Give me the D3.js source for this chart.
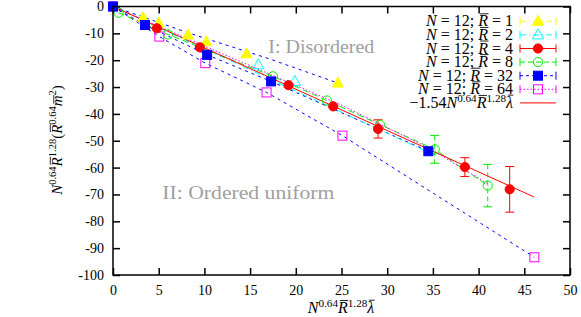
<!DOCTYPE html>
<html><head><meta charset="utf-8">
<script src="https://cdn.jsdelivr.net/npm/d3@7"></script>
<style>body{margin:0;background:#fff}svg{display:block}</style>
</head><body>
<script>
// ---------- data ----------
const xTicks = [0,5,10,15,20,25,30,35,40,45,50];
const yTicks = [0,-10,-20,-30,-40,-50,-60,-70,-80,-90,-100];
const seriesR = [1, 2, 4, 8, 32, 64];

// R=1 (yellow triangles)
const r1X = [3.3, 5.0, 8.2, 10.2, 14.6, 24.6];
const r1Y = [-4.2, -6.2, -10.6, -13.1, -17.6, -28.5];
// R=2 (cyan open triangles)
const r2X = [15.9, 19.9];
const r2Y = [-21.7, -27.9];
// R=4 (red filled circles) with errors
const r4X = [0, 4.8, 9.5, 19.2, 24.1, 29.0, 38.5, 43.4];
const r4Y = [0, -8.1, -15.2, -29.3, -37.2, -45.6, -59.8, -68.1];
const r4E = [0, 0, 0, 0, 0, 3.4, 3.5, 8.5];
// R=8 (green open circles) with errors
const r8X = [0.6, 6.0, 17.5, 23.4, 29.2, 35.2, 41.0];
const r8Y = [-2.3, -10.4, -26.0, -35.0, -44.0, -53.2, -66.7];
const r8E = [0, 0, 0, 0, 0, 5.2, 7.9];
// R=32 (blue filled squares)
const r32X = [0, 3.5, 10.3, 17.3, 34.5];
const r32Y = [0, -6.9, -18.0, -27.9, -53.9];
// R=64 (magenta open squares)
const r64X = [0, 5.07, 10.1, 16.8, 25.1, 46.1];
const r64Y = [0, -11.2, -21.1, -32.0, -48.1, -93.4];

// connecting lines
const cyanLineX = [0, 34.5];
const cyanLineY = [0, -54.3];
const magLineX = [0, 24.9, 34.5, 41.0];
const magLineY = [0, -36.6, -52.6, -66.0];
const upperBlueX = [0, 8.4, 17.2, 24.6];
const upperBlueY = [0, -10.0, -19.6, -28.5];
// fit
const fitSlope = -1.54;
const fitX = [0, 46.1];

// ---------- layout ----------
const W = 581, H = 317;
const L = 113, R = 570, T = 6.5, B = 275;
const FONT = "'Liberation Serif', 'DejaVu Serif', serif";

const svg = d3.select("body").append("svg").attr("width", W).attr("height", H);
const x = d3.scaleLinear().domain([0, 50]).range([L, R]);
const y = d3.scaleLinear().domain([-100, 0]).range([B, T]);

const pts = (xs, ys) => xs.map((v, i) => [v, ys[i]]);
const line = d3.line().x(d => x(d[0])).y(d => y(d[1]));

const COL = {y:"#ffff00", c:"#00ffff", r:"#ff0000", g:"#00ee00", b:"#0000ff", m:"#ff00ff"};

// ---------- axes ----------
const axB = d3.axisBottom(x).tickValues(xTicks).tickSize(-7).tickPadding(10).tickFormat(d3.format("d"));
const axT = d3.axisTop(x).tickValues(xTicks).tickSize(-7).tickFormat("");
const axL = d3.axisLeft(y).tickValues(yTicks).tickSize(-7).tickPadding(9).tickFormat(d => d === 0 ? "0" : "-" + Math.abs(d));
const axR = d3.axisRight(y).tickValues(yTicks).tickSize(-7).tickFormat("");
function styleAx(g){
  g.select(".domain").remove();
  g.selectAll(".tick line").attr("stroke", "#000").attr("stroke-width", 1.5);
  g.selectAll(".tick text").attr("font-family", FONT).attr("font-size", 14).attr("fill", "#000");
}
svg.append("g").attr("transform", `translate(0,${B})`).call(axB).call(styleAx);
svg.append("g").attr("transform", `translate(0,${T})`).call(axT).call(styleAx);
svg.append("g").attr("transform", `translate(${L},0)`).call(axL).call(styleAx);
svg.append("g").attr("transform", `translate(${R},0)`).call(axR).call(styleAx);

// ---------- math text helper (bars drawn as lines) ----------
function mathText(parent, parts, size, tx, ty, anchor, transform){
  const g = parent.append("g");
  if (transform) g.attr("transform", transform);
  const t = g.append("text").attr("x", tx).attr("y", ty).attr("text-anchor", anchor)
    .attr("font-family", FONT).attr("font-size", size).attr("fill", "#000");
  let up = false;
  const bars = [];
  parts.forEach(p => {
    const s = t.append("tspan").text(p.t);
    if (p.it) s.attr("font-style", "italic");
    if (p.sup) {
      s.attr("font-size", size * 0.7);
      if (!up) { s.attr("dy", -size * 0.38); up = true; }
    } else if (up) { s.attr("dy", size * 0.38); up = false; }
    if (p.bar) bars.push([s, p.bar]);
  });
  bars.forEach(([s, h]) => {
    const bb = s.node().getBBox();
    const by = ty - size * h;
    g.append("line").attr("x1", bb.x + size * 0.18).attr("x2", bb.x + bb.width + size * 0.02)
      .attr("y1", by).attr("y2", by).attr("stroke", "#000").attr("stroke-width", size * 0.055);
  });
  return g;
}

// ---------- annotations ----------
svg.append("text").attr("x", x(17)).attr("y", y(-17.5)).attr("font-family", FONT).attr("font-size", 19)
  .attr("textLength", 106).attr("lengthAdjust", "spacingAndGlyphs")
  .attr("fill", "#a0a0a0").text("I: Disordered");
svg.append("text").attr("x", x(5.4)).attr("y", y(-71.6)).attr("font-family", FONT).attr("font-size", 19)
  .attr("textLength", 172).attr("lengthAdjust", "spacingAndGlyphs")
  .attr("fill", "#a0a0a0").text("II: Ordered uniform");

const plot = svg.append("g");

// lines
function drawLine(data, color, dash, width){
  plot.append("path").datum(data).attr("d", line).attr("fill", "none")
    .attr("stroke", color).attr("stroke-width", width || 1).attr("stroke-dasharray", dash);
}
drawLine(pts(upperBlueX, upperBlueY), COL.b, "3,4");
drawLine(pts(r64X, r64Y), COL.b, "3,4");
drawLine(pts(r32X, r32Y), COL.b, "3,4");
drawLine(pts(cyanLineX, cyanLineY), COL.c, "6,3,1,3");
drawLine(pts(r8X, r8Y), COL.g, "6,4");
drawLine(pts(magLineX, magLineY), COL.m, "1.5,2");
drawLine(fitX.map(v => [v, fitSlope * v]), COL.r, null, 1);

// error bars
function errBars(xs, ys, es, color, dash){
  xs.forEach((v, i) => {
    if (!es[i]) return;
    const g = plot.append("g").attr("stroke", color).attr("stroke-width", 1);
    g.append("line").attr("x1", x(v)).attr("x2", x(v)).attr("y1", y(ys[i] + es[i])).attr("y2", y(ys[i] - es[i]))
      .attr("stroke-dasharray", dash);
    [ys[i] + es[i], ys[i] - es[i]].forEach(e => g.append("line").attr("x1", x(v) - 4.5).attr("x2", x(v) + 4.5)
      .attr("y1", y(e)).attr("y2", y(e)));
  });
}
errBars(r8X, r8Y, r8E, COL.g, "5,3");
errBars(r4X, r4Y, r4E, COL.r, null);

// markers
const triPath = (cx, cy, s) => `M${cx},${cy - s * 0.6}L${cx + s * 0.55},${cy + s * 0.4}L${cx - s * 0.55},${cy + s * 0.4}Z`;
function drawMarker(g, kind, cx, cy, color, filled){
  let el;
  if (kind === "tri") el = g.append("path").attr("d", triPath(cx, cy, 10));
  else if (kind === "circ") el = g.append("circle").attr("cx", cx).attr("cy", cy).attr("r", 4.6);
  else el = g.append("rect").attr("x", cx - 4.5).attr("y", cy - 4.5).attr("width", 9).attr("height", 9);
  el.attr("fill", filled ? color : "none").attr("stroke", color).attr("stroke-width", 1);
}
function markers(kind, xs, ys, color, filled){
  xs.forEach((v, i) => drawMarker(plot, kind, x(v), y(ys[i]), color, filled));
}
markers("tri", r1X, r1Y, COL.y, true);
markers("tri", r2X, r2Y, COL.c, false);
markers("rect", r64X, r64Y, COL.m, false);
markers("circ", r8X, r8Y, COL.g, false);
markers("circ", r4X, r4Y, COL.r, true);
markers("rect", r32X, r32Y, COL.b, true);

// frame
svg.append("rect").attr("x", L).attr("y", T).attr("width", R - L).attr("height", B - T)
  .attr("fill", "none").attr("stroke", "#000").attr("stroke-width", 1.5);

// ---------- legend ----------
const legStyles = [
  {c: COL.y, dash: "6,3,1,3", kind: "tri", filled: true},
  {c: COL.c, dash: "6,3,1,3", kind: "tri", filled: false},
  {c: COL.r, dash: null, kind: "circ", filled: true},
  {c: COL.g, dash: "5,3", kind: "circ", filled: false},
  {c: COL.b, dash: "3,3", kind: "rect", filled: true},
  {c: COL.m, dash: "1.5,2", kind: "rect", filled: false}
];
const leg = svg.append("g");
const lx0 = 520, lx1 = 556, ltx = 513, ly0 = 21.3, ldy = 13.6;
seriesR.forEach((r, i) => {
  const yy = ly0 + i * ldy;
  const st = legStyles[i];
  mathText(leg, [{t:"N", it:true}, {t:" = 12; "}, {t:"R", it:true, bar:0.78}, {t:" = " + r}], 16, ltx, yy + 5, "end");
  const g = leg.append("g").attr("stroke", st.c);
  g.append("line").attr("x1", lx0).attr("x2", lx1).attr("y1", yy).attr("y2", yy).attr("stroke-dasharray", st.dash);
  [lx0, lx1].forEach(xx => g.append("line").attr("x1", xx).attr("x2", xx).attr("y1", yy - 4).attr("y2", yy + 4));
  drawMarker(leg, st.kind, (lx0 + lx1) / 2, yy, st.c, st.filled);
});
{
  const yy = ly0 + 6 * ldy;
  mathText(leg, [{t:"\u22121.54"}, {t:"N", it:true}, {t:"0.64", sup:true}, {t:"R", it:true, bar:0.78}, {t:"1.28", sup:true}, {t:"\u03BB", it:true, bar:0.8}], 16, ltx, yy + 5, "end");
  leg.append("line").attr("x1", lx0).attr("x2", lx1).attr("y1", yy).attr("y2", yy).attr("stroke", COL.r);
}

// ---------- axis titles ----------
mathText(svg, [{t:"N", it:true}, {t:"0.64", sup:true}, {t:"R", it:true, bar:0.78}, {t:"1.28", sup:true}, {t:"\u03BB", it:true, bar:0.8}], 16, 341, 313, "middle");
mathText(svg, [{t:"N", it:true}, {t:"0.64", sup:true}, {t:"R", it:true, bar:0.78}, {t:"1.28", sup:true}, {t:"("}, {t:"R", it:true, bar:0.78}, {t:"0.64", sup:true}, {t:"m", it:true, bar:0.55}, {t:"2", sup:true}, {t:")"}], 15, 0, 0, "middle", "translate(62,140) rotate(-90)");
</script>
</body></html>
